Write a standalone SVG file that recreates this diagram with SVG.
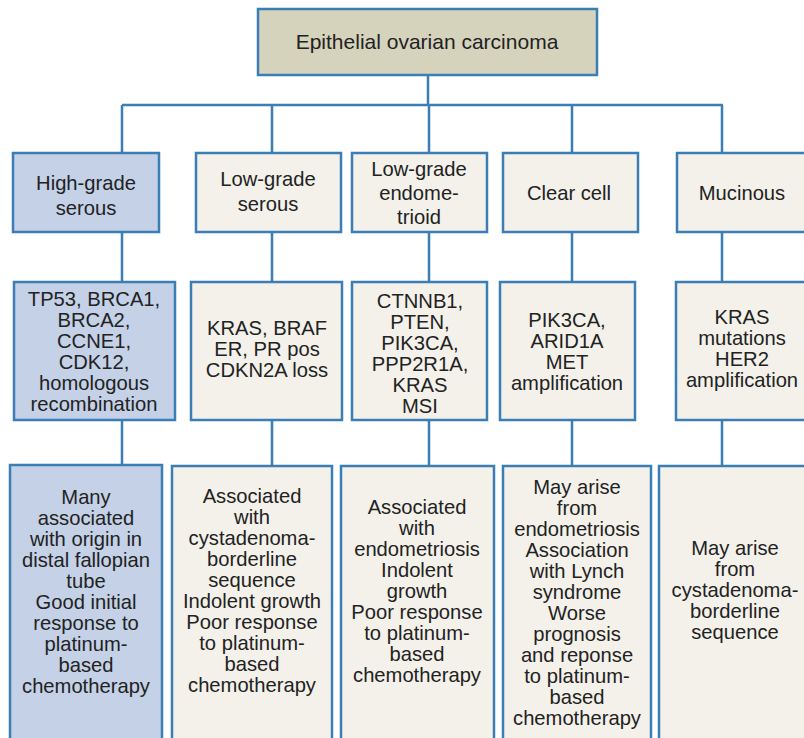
<svg xmlns="http://www.w3.org/2000/svg" width="804" height="738" viewBox="0 0 804 738">
<style>
.box{stroke:#3b7db5;stroke-width:2.5}
.blue{fill:#c4d1e7}
.beige{fill:#f3f1ea}
.tan{fill:#d6d3bd}
.t{font-family:"Liberation Sans",Arial,sans-serif;font-size:20.2px;fill:#222;text-anchor:middle}
.c{stroke:#3b7db5;stroke-width:2.5;fill:none}
</style>
<rect width="804" height="738" fill="#ffffff"/>
<g id="connectors">
<path class="c" d="M428 75V105M122 105H723M122 105V153M272 105V153M429 105V153M572 105V153M722 105V153"/>
<path class="c" d="M122 232V282M272 232V282M429 232V282M572 232V282M722 232V282"/>
<path class="c" d="M122 420V465M272 420V465M429 420V465M572 420V465M722 420V465"/>
</g>
<g id="root">
<rect class="box tan" x="258" y="9" width="339" height="66"/>
<text class="t" x="427" y="49" style="font-size:21px">Epithelial ovarian carcinoma</text>
</g>
<g id="hgs">
<rect class="box blue" x="13" y="153" width="146" height="79"/>
<text class="t" x="86" y="190">High-grade</text>
<text class="t" x="86" y="215">serous</text>
</g>
<g id="lgs">
<rect class="box beige" x="196" y="153" width="145" height="79"/>
<text class="t" x="268" y="186">Low-grade</text>
<text class="t" x="268" y="211">serous</text>
</g>
<g id="lge">
<rect class="box beige" x="352" y="153" width="135" height="79"/>
<text class="t" x="419" y="176">Low-grade</text>
<text class="t" x="419" y="200">endome-</text>
<text class="t" x="419" y="224">trioid</text>
</g>
<g id="cc">
<rect class="box beige" x="503" y="153" width="135" height="79"/>
<text class="t" x="569" y="200">Clear cell</text>
</g>
<g id="muc">
<rect class="box beige" x="677" y="153" width="132" height="79"/>
<text class="t" x="742" y="200">Mucinous</text>
</g>
<g id="hgs-genes">
<rect class="box blue" x="14" y="282" width="161" height="138"/>
<text class="t" x="94" y="306">TP53, BRCA1,</text>
<text class="t" x="94" y="327">BRCA2,</text>
<text class="t" x="94" y="348">CCNE1,</text>
<text class="t" x="94" y="369">CDK12,</text>
<text class="t" x="94" y="390">homologous</text>
<text class="t" x="94" y="411">recombination</text>
</g>
<g id="lgs-genes">
<rect class="box beige" x="191" y="282" width="151" height="138"/>
<text class="t" x="267" y="335">KRAS, BRAF</text>
<text class="t" x="267" y="356">ER, PR pos</text>
<text class="t" x="267" y="377">CDKN2A loss</text>
</g>
<g id="lge-genes">
<rect class="box beige" x="352" y="282" width="135" height="138"/>
<text class="t" x="420" y="308">CTNNB1,</text>
<text class="t" x="420" y="329">PTEN,</text>
<text class="t" x="420" y="350">PIK3CA,</text>
<text class="t" x="420" y="371">PPP2R1A,</text>
<text class="t" x="420" y="392">KRAS</text>
<text class="t" x="420" y="413">MSI</text>
</g>
<g id="cc-genes">
<rect class="box beige" x="500" y="282" width="135" height="138"/>
<text class="t" x="567" y="327">PIK3CA,</text>
<text class="t" x="567" y="348">ARID1A</text>
<text class="t" x="567" y="369">MET</text>
<text class="t" x="567" y="390">amplification</text>
</g>
<g id="muc-genes">
<rect class="box beige" x="676" y="282" width="133" height="138"/>
<text class="t" x="742" y="324">KRAS</text>
<text class="t" x="742" y="345">mutations</text>
<text class="t" x="742" y="366">HER2</text>
<text class="t" x="742" y="387">amplification</text>
</g>
<g id="hgs-notes">
<rect class="box blue" x="10" y="465" width="152" height="285"/>
<text class="t" x="86" y="504">Many</text>
<text class="t" x="86" y="525">associated</text>
<text class="t" x="86" y="546">with origin in</text>
<text class="t" x="86" y="567">distal fallopian</text>
<text class="t" x="86" y="588">tube</text>
<text class="t" x="86" y="609">Good initial</text>
<text class="t" x="86" y="630">response to</text>
<text class="t" x="86" y="651">platinum-</text>
<text class="t" x="86" y="672">based</text>
<text class="t" x="86" y="693">chemotherapy</text>
</g>
<g id="lgs-notes">
<rect class="box beige" x="172" y="466" width="160" height="285"/>
<text class="t" x="252" y="503">Associated</text>
<text class="t" x="252" y="524">with</text>
<text class="t" x="252" y="545">cystadenoma-</text>
<text class="t" x="252" y="566">borderline</text>
<text class="t" x="252" y="587">sequence</text>
<text class="t" x="252" y="608">Indolent growth</text>
<text class="t" x="252" y="629">Poor response</text>
<text class="t" x="252" y="650">to platinum-</text>
<text class="t" x="252" y="671">based</text>
<text class="t" x="252" y="692">chemotherapy</text>
</g>
<g id="lge-notes">
<rect class="box beige" x="341" y="466" width="153" height="285"/>
<text class="t" x="417" y="514">Associated</text>
<text class="t" x="417" y="535">with</text>
<text class="t" x="417" y="556">endometriosis</text>
<text class="t" x="417" y="577">Indolent</text>
<text class="t" x="417" y="598">growth</text>
<text class="t" x="417" y="619">Poor response</text>
<text class="t" x="417" y="640">to platinum-</text>
<text class="t" x="417" y="661">based</text>
<text class="t" x="417" y="682">chemotherapy</text>
</g>
<g id="cc-notes">
<rect class="box beige" x="503" y="466" width="148" height="285"/>
<text class="t" x="577" y="494">May arise</text>
<text class="t" x="577" y="515">from</text>
<text class="t" x="577" y="536">endometriosis</text>
<text class="t" x="577" y="557">Association</text>
<text class="t" x="577" y="578">with Lynch</text>
<text class="t" x="577" y="599">syndrome</text>
<text class="t" x="577" y="620">Worse</text>
<text class="t" x="577" y="641">prognosis</text>
<text class="t" x="577" y="662">and reponse</text>
<text class="t" x="577" y="683">to platinum-</text>
<text class="t" x="577" y="704">based</text>
<text class="t" x="577" y="725">chemotherapy</text>
</g>
<g id="muc-notes">
<rect class="box beige" x="659" y="466" width="152" height="285"/>
<text class="t" x="735" y="555">May arise</text>
<text class="t" x="735" y="576">from</text>
<text class="t" x="735" y="597">cystadenoma-</text>
<text class="t" x="735" y="618">borderline</text>
<text class="t" x="735" y="639">sequence</text>
</g>
</svg>
